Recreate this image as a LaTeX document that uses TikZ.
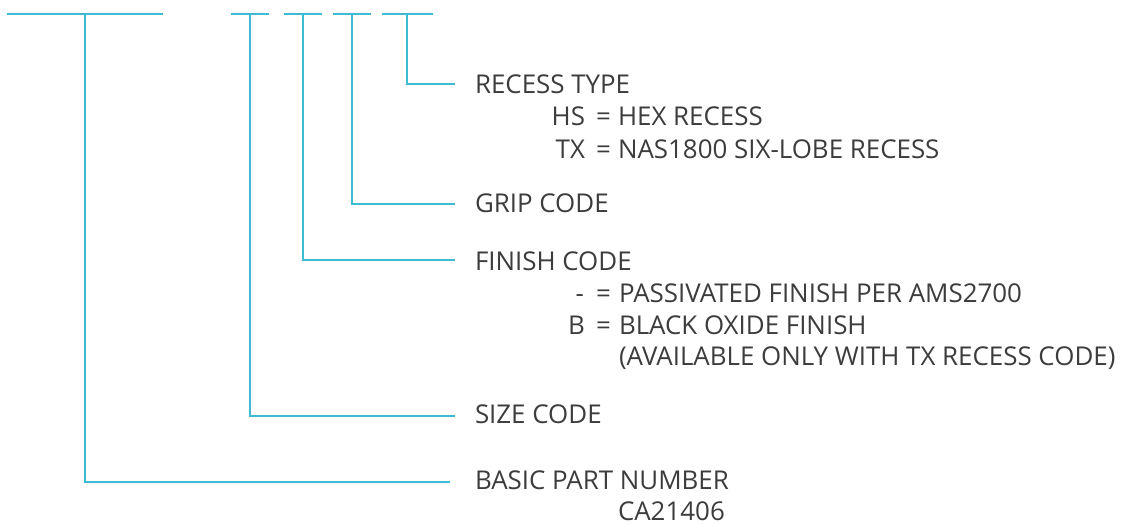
\documentclass[tikz,border=0pt]{standalone}
\usepackage{fontspec}
\setmainfont{Open Sans}
\definecolor{cyanline}{HTML}{3FBAD3}
\definecolor{txt}{HTML}{3C3C3C}
\begin{document}
\begin{tikzpicture}[x=1pt,y=-1pt,
  conn/.style={draw=cyanline,line width=1.8pt},
  lbl/.style={anchor=base west,inner sep=0pt,outer sep=0pt,text=txt,font=\fontsize{25.9}{30}\selectfont},
  code/.style={lbl,anchor=base east}]
\useasboundingbox (0,0) rectangle (1122,524);
% labels
\node[lbl] (recess) at (475,94) {RECESS TYPE};
\node[code] (hs) at (585,126) {HS};
\node[lbl] (hseq) at (596,126) {=};
\node[lbl] (hsd) at (618,126) {HEX RECESS};
\node[code] (tx) at (585,158) {TX};
\node[lbl] (txeq) at (596,158) {=};
\node[lbl] (txd) at (618,158) {NAS1800 SIX-LOBE RECESS};
\node[lbl] (grip) at (475,212) {GRIP CODE};
\node[lbl] (finish) at (475,270) {FINISH CODE};
\node[code] (dash) at (584,302) {-};
\node[lbl] (dasheq) at (596,302) {=};
\node[lbl] (dashd) at (619,302) {PASSIVATED FINISH PER AMS2700};
\node[code] (b) at (585,334) {B};
\node[lbl] (beq) at (596,334) {=};
\node[lbl] (bd) at (619,334) {BLACK OXIDE FINISH};
\node[lbl] (avail) at (619,365) {(AVAILABLE ONLY WITH TX RECESS CODE)};
\node[lbl] (size) at (475,423) {SIZE CODE};
\node[lbl] (basic) at (475,489) {BASIC PART NUMBER};
\node[lbl] (ca) at (618,520) {CA21406};
% top segments
\coordinate (s1a) at (7,14);   \coordinate (s1b) at (163,14);  \coordinate (v1) at (85,14);
\coordinate (s2a) at (231,14); \coordinate (s2b) at (269,14);  \coordinate (v2) at (250,14);
\coordinate (s3a) at (284,14); \coordinate (s3b) at (322,14);  \coordinate (v3) at (303,14);
\coordinate (s4a) at (333,14); \coordinate (s4b) at (371,14);  \coordinate (v4) at (352,14);
\coordinate (s5a) at (382,14); \coordinate (s5b) at (433,14);  \coordinate (v5) at (407,14);
\draw[conn] (s1a) -- (s1b);
\draw[conn] (s2a) -- (s2b);
\draw[conn] (s3a) -- (s3b);
\draw[conn] (s4a) -- (s4b);
\draw[conn] (s5a) -- (s5b);
% leaders
\coordinate (e5) at (455,84);
\coordinate (e4) at (455,204);
\coordinate (e3) at (455,260);
\coordinate (e2) at (455,416);
\coordinate (e1) at (450,482);
\draw[conn] (v5) |- (e5);
\draw[conn] (v4) |- (e4);
\draw[conn] (v3) |- (e3);
\draw[conn] (v2) |- (e2);
\draw[conn] (v1) |- (e1);
\end{tikzpicture}
\end{document}
